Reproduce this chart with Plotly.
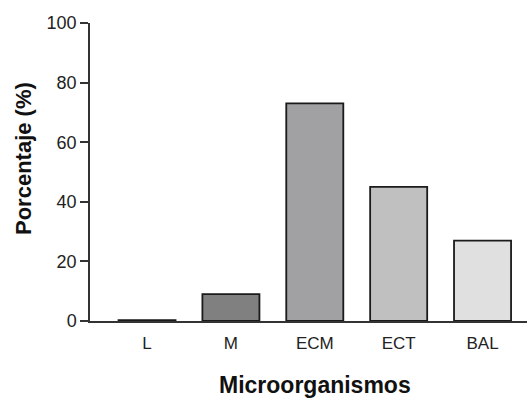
import plotly.graph_objects as go

categories = ["L", "M", "ECM", "ECT", "BAL"]
values = [0.3, 9, 73, 45, 27]
colors = ["#303030", "#808080", "#a1a1a4", "#c0c0c0", "#e0e0e0"]
y_ticks = [0, 20, 40, 60, 80, 100]

fig = go.Figure()
fig.add_trace(go.Bar(
    x=categories, y=values,
    marker=dict(color=colors, line=dict(color="#1a1a1a", width=1.8)),
    width=0.68,
))

font_family = "Liberation Sans, Arial, sans-serif"
L, R, T, B, W, H = 90, 2, 23, 77, 529, 398
pw, ph = W - L - R, H - T - B

fig.update_layout(
    width=W, height=H,
    margin=dict(l=L, r=R, t=T, b=B),
    plot_bgcolor="white", paper_bgcolor="white",
    showlegend=False,
    font=dict(family=font_family, size=17, color="#222"),
    xaxis=dict(
        range=[-0.68, 4.53], automargin=False,
        showline=True, linecolor="#333", linewidth=1.5,
        ticks="", showgrid=False, zeroline=False,
        ticklabelstandoff=6,
        tickfont=dict(size=17, color="#222"),
    ),
    yaxis=dict(
        range=[0, 100], automargin=False,
        tickvals=y_ticks,
        showline=True, linecolor="#333", linewidth=1.5,
        ticks="outside", ticklen=8, tickwidth=1.5, tickcolor="#333",
        showgrid=False, zeroline=False,
        tickfont=dict(size=18, color="#222"),
    ),
    annotations=[
        dict(text="<b>Microorganismos</b>", xref="paper", yref="paper",
             x=(315 - L) / pw, y=(H - B - 385) / ph, xanchor="center", yanchor="middle",
             showarrow=False, font=dict(size=23, color="#111")),
        dict(text="<b>Porcentaje (%)</b>", xref="paper", yref="paper",
             x=(23 - L) / pw, y=(H - B - 159) / ph, xanchor="center", yanchor="middle",
             textangle=-90, showarrow=False, font=dict(size=22, color="#111")),
    ],
)

fig.write_html(
    "out.html",
    config={"displayModeBar": False},
    post_script="document.body.style.margin='0';document.body.style.overflow='hidden';",
)
